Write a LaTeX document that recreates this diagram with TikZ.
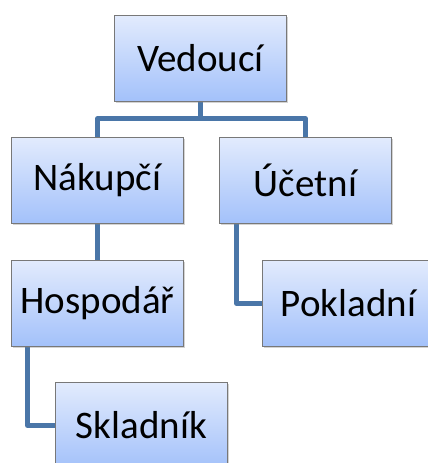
\documentclass[tikz,border=0pt]{standalone}
\usepackage{fontspec}
\setmainfont{Carlito}
\usetikzlibrary{shadows,backgrounds}
\definecolor{boxtop}{RGB}{226,235,253}
\definecolor{boxbottom}{RGB}{163,193,250}
\definecolor{boxedge}{RGB}{120,120,120}
\definecolor{linkblue}{RGB}{74,118,168}
\begin{document}
\begin{tikzpicture}[x=1pt,y=-1pt,
  orgbox/.style={draw=boxedge, line width=0.8pt, top color=boxtop, bottom color=boxbottom,
    minimum width=172pt, minimum height=86pt, inner sep=0pt, anchor=north west,
    font=\fontsize{39}{40}\selectfont,
    drop shadow={shadow xshift=1.5pt, shadow yshift=-1.5pt, opacity=0.35}},
  link/.style={draw=linkblue, line width=5pt, line join=round}]
  \clip (0,0) rectangle (428,463);
  % boxes of the hierarchy
  \node[orgbox] (ved) at (114,15) {Vedoucí};
  \node[orgbox] (nak) at (11,137) {Nákupčí};
  \node[orgbox] (uce) at (219,137) {Účetní};
  \node[orgbox] (hos) at (11,260) {Hospodář};
  \node[orgbox] (pok) at (262,260) {Pokladní};
  \node[orgbox] (skl) at (55,382) {Skladník};
  % connectors behind the boxes
  \begin{pgfonlayer}{background}
    \draw[link] (ved.south) -- ++(0,17) -| (nak.north);
    \draw[link] (ved.south) -- ++(0,17) -| (uce.north);
    \draw[link] (nak.south) -- (hos.north);
    \draw[link] ([xshift=-69pt]uce.south) |- (pok.west);
    \draw[link] ([xshift=-70pt]hos.south) |- (skl.west);
  \end{pgfonlayer}
\end{tikzpicture}
\end{document}
